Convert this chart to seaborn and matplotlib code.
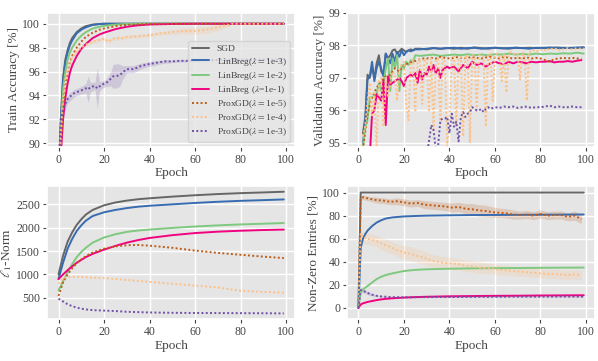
import numpy as np
import matplotlib
matplotlib.use("Agg")
import matplotlib.pyplot as plt
import seaborn as sns

# ====================================================
# DATA
# ====================================================

methods = ["SGD", "LB3", "LB2", "LB1", "PX5", "PX4", "PX3"]

labels = {
    "SGD": "SGD",
    "LB3": r"LinBreg($\lambda = $1e-3)",
    "LB2": r"LinBreg($\lambda = $1e-2)",
    "LB1": r"LinBreg ($\lambda$=1e-1)",
    "PX5": r"ProxGD($\lambda = $1e-5)",
    "PX4": r"ProxGD($\lambda = $1e-4)",
    "PX3": r"ProxGD($\lambda = $1e-3)",
}

colors = {
    "SGD": "#666666",
    "LB3": "#386cb0",
    "LB2": "#7fc97f",
    "LB1": "#f0027f",
    "PX5": "#bf5b17",
    "PX4": "#fdc086",
    "PX3": "#6f4fa8",
}

# --- train accuracy ---
tr_ep = [0, 1, 2, 3, 4, 5, 6, 8, 10, 12, 15, 18, 20, 25, 30, 35, 40, 50, 60, 70, 80, 90, 99]
tr_sgd = [86.0, 92.0, 95.5, 97.0, 97.8, 98.4, 98.8, 99.3, 99.6, 99.8, 99.93, 99.98, 100,
          100, 100, 100, 100, 100, 100, 100, 100, 100, 100]
tr_lb3 = [85.5, 91.5, 95.2, 96.8, 97.6, 98.2, 98.6, 99.2, 99.5, 99.7, 99.9, 99.97, 100,
          100, 100, 100, 100, 100, 100, 100, 100, 100, 100]
tr_lb2 = [85.0, 91.0, 94.5, 96.0, 97.0, 97.6, 98.0, 98.6, 99.0, 99.3, 99.6, 99.75, 99.82,
          99.93, 99.98, 100, 100, 100, 100, 100, 100, 100, 100]
tr_lb1 = [84.0, 89.0, 92.0, 93.8, 95.0, 95.9, 96.5, 97.3, 97.9, 98.3, 98.8, 99.1, 99.25,
          99.55, 99.75, 99.87, 99.94, 99.98, 100, 100, 100, 100, 100]
tr_px5 = [84.5, 89.5, 93.0, 94.8, 96.0, 96.8, 97.3, 98.0, 98.5, 98.9, 99.25, 99.5, 99.6,
          99.8, 99.9, 99.95, 99.98, 100, 100, 100, 100, 100, 100]

tr_ep_px4 = [0, 1, 2, 3, 4, 5, 6, 8, 10, 12, 15, 18, 20, 22, 24, 26, 28, 30, 35, 40, 45,
             50, 55, 60, 65, 70, 73, 75, 76, 80, 90, 99]
tr_px4 = [86.0, 90.5, 93.8, 95.3, 96.2, 96.8, 97.2, 97.7, 98.0, 98.25, 98.5, 98.65, 98.75,
          98.5, 98.75, 98.8, 98.8, 98.9, 98.95, 99.05, 99.2, 99.3, 99.4, 99.4, 99.5, 99.7,
          99.85, 99.9, 100, 100, 100, 100]
tr_px4_err = [0.3, 0.3, 0.3, 0.2, 0.2, 0.2, 0.2, 0.15, 0.15, 0.15, 0.15, 0.15, 0.15,
              0.15, 0.15, 0.15, 0.15, 0.15, 0.15, 0.15, 0.15, 0.2, 0.25, 0.3, 0.3, 0.3,
              0.2, 0.15, 0.0, 0.0, 0.0, 0.0]

tr_ep_px3 = [0, 1, 2, 3, 4, 5, 7, 9, 11, 12, 13, 14, 16, 17, 18, 19, 21, 23, 24, 26, 27,
             28, 30, 33, 36, 39, 42, 45, 47, 50, 53, 56, 59, 65, 70, 80, 90, 99]
tr_px3 = [88.0, 92.0, 92.8, 93.3, 93.7, 93.9, 94.2, 94.35, 94.5, 94.6, 94.5, 94.7, 94.8,
          94.6, 94.75, 94.9, 95.05, 95.4, 95.6, 95.65, 95.7, 95.9, 96.2, 96.2, 96.45, 96.6,
          96.7, 96.8, 96.85, 96.85, 96.9, 96.9, 96.92, 96.95, 96.97, 97.0, 97.0, 97.0]
tr_px3_err = [0.5, 0.6, 0.5, 0.4, 0.35, 0.35, 0.3, 0.3, 0.35, 0.4, 1.1, 0.4, 0.3, 1.7,
              0.4, 0.3, 0.3, 0.6, 1.0, 1.0, 0.9, 0.6, 0.3, 0.3, 0.25, 0.2, 0.2, 0.15,
              0.15, 0.1, 0.1, 0.1, 0.1, 0.05, 0.05, 0.05, 0.05, 0.05]

# --- validation accuracy ---
va_ep = list(range(2, 26)) + list(range(27, 100, 3))
va_sgd = [95.3, 95.8, 97.1, 97.0, 97.35, 97.0, 97.45, 97.7, 97.2, 97.1, 97.75, 97.6,
          97.7, 97.85, 97.88, 97.75, 97.82, 97.9, 97.85, 97.8, 97.85, 97.88, 97.85, 97.9,
          97.9, 97.88, 97.92, 97.9, 97.92, 97.9, 97.93, 97.9, 97.94, 97.92, 97.9, 97.93,
          97.92, 97.9, 97.93, 97.92, 97.93, 97.92, 97.93, 97.92, 97.94, 97.92, 97.93,
          97.92, 97.95]
va_lb3 = [95.0, 95.6, 96.95, 97.05, 97.5, 96.9, 97.3, 97.5, 97.3, 97.05, 97.75, 97.6,
          97.45, 97.75, 97.5, 97.8, 97.65, 97.85, 97.7, 97.8, 97.85, 97.82, 97.85, 97.88,
          97.88, 97.9, 97.92, 97.9, 97.92, 97.93, 97.9, 97.92, 97.93, 97.9, 97.92, 97.93,
          97.91, 97.92, 97.93, 97.92, 97.9, 97.93, 97.92, 97.94, 97.92, 97.93, 97.92,
          97.94, 97.93]
va_lb2 = [94.9, 95.5, 95.7, 96.4, 96.4, 96.45, 96.5, 96.85, 96.6, 96.8, 97.3, 97.6,
          96.6, 97.6, 97.3, 97.7, 96.6, 97.4, 97.3, 97.5, 97.4, 97.55, 97.5, 97.7,
          97.68, 97.7, 97.72, 97.68, 97.7, 97.72, 97.7, 97.73, 97.7, 97.72, 97.7, 97.73,
          97.72, 97.75, 97.72, 97.74, 97.72, 97.75, 97.73, 97.75, 97.74, 97.76, 97.75,
          97.78, 97.75]

va_ep_lb1 = list(range(5, 41)) + list(range(42, 100, 2))
va_lb1 = [94.6, 95.9, 96.0, 96.5, 96.4, 96.3, 96.95, 95.55, 97.05, 96.8, 96.85, 96.9,
          96.95, 97.0, 96.9, 96.75, 97.0, 97.05, 97.1, 97.05, 97.15, 96.85, 97.25, 96.95,
          97.15, 97.1, 97.35, 97.2, 97.4, 97.15, 97.3, 97.0, 97.25, 97.3, 97.35, 97.3,
          97.35, 97.2, 97.4, 97.3, 97.5, 97.4, 97.45, 97.35, 97.45, 97.5, 97.45, 97.42,
          97.5, 97.45, 97.5, 97.48, 97.45, 97.5, 97.48, 97.5, 97.5, 97.52, 97.48, 97.5,
          97.5, 97.52, 97.5, 97.53, 97.55]

va_ep_px5 = list(range(2, 100, 2))
va_px5 = [94.8, 95.9, 96.4, 96.7, 96.9, 97.05, 97.1, 97.3, 97.2, 97.4, 97.45, 97.5,
          97.55, 97.6, 97.6, 97.62, 97.6, 97.65, 97.62, 97.6, 97.62, 97.65, 97.6, 97.62,
          97.65, 97.62, 97.6, 97.63, 97.65, 97.62, 97.6, 97.65, 97.62, 97.6, 97.62, 97.6,
          97.63, 97.6, 97.62, 97.6, 97.55, 97.5, 97.58, 97.6, 97.62, 97.6, 97.62, 97.6,
          97.6]

va_ep_px4 = list(range(2, 100))
va_px4 = [95.2, 95.5, 96.3, 96.85, 95.8, 96.6, 94.8, 96.9, 97.0, 95.5,
          97.0, 96.4, 96.85, 97.2, 97.1, 96.3, 97.3, 97.4, 97.5, 96.2,
          95.7, 97.5, 97.55, 96.0, 97.5, 97.6, 96.2, 97.6, 97.55, 96.0,
          97.6, 95.4, 97.5, 97.6, 95.6, 97.6, 97.5, 94.9, 95.7, 97.6,
          97.65, 95.5, 97.6, 97.65, 95.2, 97.7, 97.6, 95.0, 97.7, 97.65,
          96.0, 97.7, 97.7, 97.65, 95.5, 97.7, 97.75, 96.3, 97.7, 97.75,
          97.7, 96.9, 97.75, 96.55, 97.7, 97.8, 97.75, 97.7, 97.75, 96.95,
          97.8, 97.75, 96.3, 97.8, 97.8, 97.85, 97.8, 97.85, 97.85, 97.9,
          97.85, 97.9, 97.85, 97.9, 97.88, 97.9, 97.85, 97.9, 97.88, 97.9,
          97.92, 97.9, 97.88, 97.9, 97.92, 97.9, 97.92, 97.9]

va_ep_px3 = list(range(28, 59)) + list(range(60, 100, 2))
va_px3 = [94.0, 94.3, 94.6, 95.05, 95.55, 95.4, 94.8, 94.9, 95.7, 95.75, 95.75, 95.8,
          95.3, 95.9, 95.5, 95.65, 95.05, 95.8, 95.95, 95.8, 95.9, 95.95, 96.1, 96.05,
          96.0, 96.0, 96.05, 95.95, 96.05, 96.1, 96.05,
          96.1, 96.08, 96.12, 96.1, 96.12, 96.08, 96.1, 96.12, 96.08, 96.1, 96.1, 96.12,
          96.15, 96.1, 96.12, 96.1, 96.1, 96.12, 96.1, 96.1]

# --- l1 norm ---
l1_ep = [0, 2, 4, 6, 8, 10, 12, 15, 20, 25, 30, 35, 40, 50, 60, 70, 80, 90, 99]
l1_sgd = [1000, 1400, 1700, 1900, 2060, 2180, 2280, 2380, 2480, 2540, 2580, 2610, 2630,
          2665, 2695, 2720, 2740, 2755, 2770]
l1_lb3 = [900, 1250, 1550, 1760, 1930, 2050, 2150, 2250, 2330, 2380, 2420, 2450, 2470,
          2500, 2530, 2555, 2575, 2590, 2605]
l1_lb2 = [660, 850, 1050, 1220, 1370, 1480, 1570, 1680, 1790, 1860, 1910, 1940, 1960,
          1995, 2025, 2050, 2070, 2085, 2100]
l1_lb1 = [900, 1000, 1090, 1170, 1250, 1310, 1370, 1440, 1530, 1610, 1680, 1735, 1780,
          1840, 1885, 1915, 1935, 1950, 1960]
l1_px5 = [540, 830, 1000, 1130, 1240, 1320, 1390, 1470, 1550, 1600, 1625, 1630, 1615,
          1570, 1510, 1460, 1420, 1380, 1350]
l1_px4 = [800, 920, 940, 950, 950, 945, 940, 930, 920, 900, 880, 860, 840, 800, 760,
          720, 650, 625, 610]
l1_px3 = [480, 420, 360, 320, 290, 265, 250, 235, 225, 215, 200, 192, 185, 178, 174,
          172, 170, 168, 165]

# --- non-zero entries ---
nz_ep = [0, 1, 2, 3, 4, 6, 8, 10, 12, 15, 20, 25, 30, 40, 50, 60, 70, 80, 90, 99]
nz_sgd = [0] + [100] * 19
nz_lb3 = [0, 52, 60, 64, 67, 71, 74, 76, 77.5, 78.5, 79.3, 79.7, 80, 80.3, 80.5, 80.6,
          80.7, 80.8, 80.9, 81]
nz_lb2 = [0, 14, 16, 17.5, 19, 22, 25, 27, 28.5, 30, 32, 33, 33.5, 34, 34.3, 34.5, 34.6,
          34.8, 34.9, 35]
nz_lb1 = [0, 3, 4, 4.6, 5.2, 6, 6.8, 7.4, 7.9, 8.4, 9, 9.4, 9.7, 10.1, 10.3, 10.5, 10.6,
          10.8, 10.9, 11]
nz_px3 = [0, 15.5, 15, 14, 13, 11.5, 10.5, 10, 9.7, 9.4, 9.2, 9.3, 9.4, 9.5, 9.6, 9.7,
          9.8, 9.8, 9.9, 9.8]
nz_px3_err = [1, 2, 2, 1.5, 1.5, 1, 0.8, 0.6, 0.5, 0.5, 0.4, 0.4, 0.4, 0.4, 0.4, 0.4,
              0.4, 0.4, 0.4, 0.4]

nz_ep_px = [0, 1] + list(range(2, 100, 3))
nz_px5 = [0, 95, 96, 94.5, 93.5, 93, 92, 92.5, 91.5, 90.5, 91, 89.5, 89, 88.5, 88, 87,
          87.5, 86, 85.5, 84.5, 84, 83, 82.5, 82, 81, 80.5, 81, 80, 81.5, 80, 80.5, 80.5,
          79, 80, 77]
nz_px5_err = [0, 1.5, 2, 2, 2.5, 2.5, 2.5, 3, 3, 3, 3, 3.5, 3.5, 3.5, 3.5, 4, 4, 4.5,
              5, 5, 5, 4.5, 4, 4, 4, 3.5, 3.5, 3.5, 3.5, 3.5, 3.5, 3.5, 3.5, 4, 4]
nz_px4 = [0, 65, 61, 59.5, 58, 55, 53, 50, 48, 47, 45, 43.5, 41, 40, 39, 38.5, 38, 36.5,
          36, 35, 34.5, 34, 33, 32.5, 32, 31.5, 31, 30.5, 30, 29.5, 29.5, 29, 28.5, 29,
          28.5]
nz_px4_err = [0, 4, 5, 5, 5, 5.5, 5.5, 5.5, 6, 6, 6, 6, 5.5, 5.5, 5.5, 5, 5, 5, 5, 5,
              4.5, 4.5, 4.5, 4.5, 4, 4, 4, 4, 4, 4, 4, 4, 4, 4, 4]

# ====================================================
# STYLE
# ====================================================

sns.set_theme(style="darkgrid", rc={
    "axes.facecolor": "#e5e5e5",
    "grid.color": "white",
    "grid.linewidth": 1.0,
    "xtick.bottom": True,
    "ytick.left": True,
    "xtick.color": "#444444",
    "ytick.color": "#444444",
    "xtick.major.size": 3,
    "ytick.major.size": 3,
    "xtick.major.width": 0.8,
    "ytick.major.width": 0.8,
    "axes.labelcolor": "#444444",
    "text.color": "#444444",
})
plt.rcParams["font.family"] = ["Liberation Serif", "DejaVu Serif"]
plt.rcParams["mathtext.fontset"] = "stix"

dotted = (0, (1, 1.2))

def draw(ax, ep, vals, key, err=None):
    ls = "-" if key in ("SGD", "LB3", "LB2", "LB1") else dotted
    sns.lineplot(x=ep, y=vals, ax=ax, color=colors[key], linestyle=ls,
                 linewidth=1.4, label=labels[key], legend=False)
    if err is not None:
        lo = np.array(vals) - np.array(err)
        hi = np.array(vals) + np.array(err)
        ax.fill_between(ep, lo, hi, color=colors[key], alpha=0.2, linewidth=0)

fig, axes = plt.subplots(2, 2, figsize=(5.98, 3.61), dpi=100)
fig.subplots_adjust(left=0.079, right=0.995, top=0.964, bottom=0.115,
                    wspace=0.21, hspace=0.29)

# ====================================================
# TRAIN ACCURACY
# ====================================================

ax = axes[0, 0]
draw(ax, tr_ep, tr_sgd, "SGD")
draw(ax, tr_ep, tr_lb3, "LB3")
draw(ax, tr_ep, tr_lb2, "LB2")
draw(ax, tr_ep, tr_lb1, "LB1")
draw(ax, tr_ep, tr_px5, "PX5")
draw(ax, tr_ep_px4, tr_px4, "PX4", tr_px4_err)
draw(ax, tr_ep_px3, tr_px3, "PX3", tr_px3_err)
ax.set_ylim(89.7, 100.9)
ax.set_yticks([90, 92, 94, 96, 98, 100])
ax.set_ylabel("Train Accuracy [%]")
leg = ax.legend(loc="lower right", fontsize=6.8, labelspacing=0.25,
                handlelength=1.8, framealpha=0.8, facecolor="#e5e5e5",
                edgecolor="#d0d0d0", borderpad=0.4)

# ====================================================
# VALIDATION ACCURACY
# ====================================================

ax = axes[0, 1]
draw(ax, va_ep, va_sgd, "SGD")
draw(ax, va_ep, va_lb3, "LB3")
draw(ax, va_ep, va_lb2, "LB2")
draw(ax, va_ep_lb1, va_lb1, "LB1")
draw(ax, va_ep_px5, va_px5, "PX5")
draw(ax, va_ep_px4, va_px4, "PX4")
draw(ax, va_ep_px3, va_px3, "PX3")
ax.set_ylim(94.88, 99.0)
ax.set_yticks([95, 96, 97, 98, 99])
ax.set_ylabel("Validation Accuracy [%]")

# ====================================================
# L1 NORM
# ====================================================

ax = axes[1, 0]
draw(ax, l1_ep, l1_sgd, "SGD")
draw(ax, l1_ep, l1_lb3, "LB3")
draw(ax, l1_ep, l1_lb2, "LB2")
draw(ax, l1_ep, l1_lb1, "LB1")
draw(ax, l1_ep, l1_px5, "PX5")
draw(ax, l1_ep, l1_px4, "PX4")
draw(ax, l1_ep, l1_px3, "PX3")
ax.set_yticks([500, 1000, 1500, 2000, 2500])
ax.set_ylabel(r"$\ell_1$-Norm")

# ====================================================
# NON-ZERO ENTRIES
# ====================================================

ax = axes[1, 1]
draw(ax, nz_ep, nz_sgd, "SGD")
draw(ax, nz_ep, nz_lb3, "LB3")
draw(ax, nz_ep, nz_lb2, "LB2")
draw(ax, nz_ep, nz_lb1, "LB1")
draw(ax, nz_ep_px, nz_px5, "PX5", nz_px5_err)
draw(ax, nz_ep_px, nz_px4, "PX4", nz_px4_err)
draw(ax, nz_ep, nz_px3, "PX3", nz_px3_err)
ax.set_ylim(-10, 106)
ax.set_yticks([0, 20, 40, 60, 80, 100])
ax.set_ylabel("Non-Zero Entries [%]")

for ax in axes.flat:
    ax.set_xlim(-4.95, 103.95)
    ax.set_xticks([0, 20, 40, 60, 80, 100])
    ax.set_xlabel("Epoch", fontsize=9.5, labelpad=1)
    ax.yaxis.label.set_size(9.5)
    ax.yaxis.labelpad = 2
    ax.tick_params(labelsize=8.5, pad=2)

plt.savefig("out.png", dpi=100)
